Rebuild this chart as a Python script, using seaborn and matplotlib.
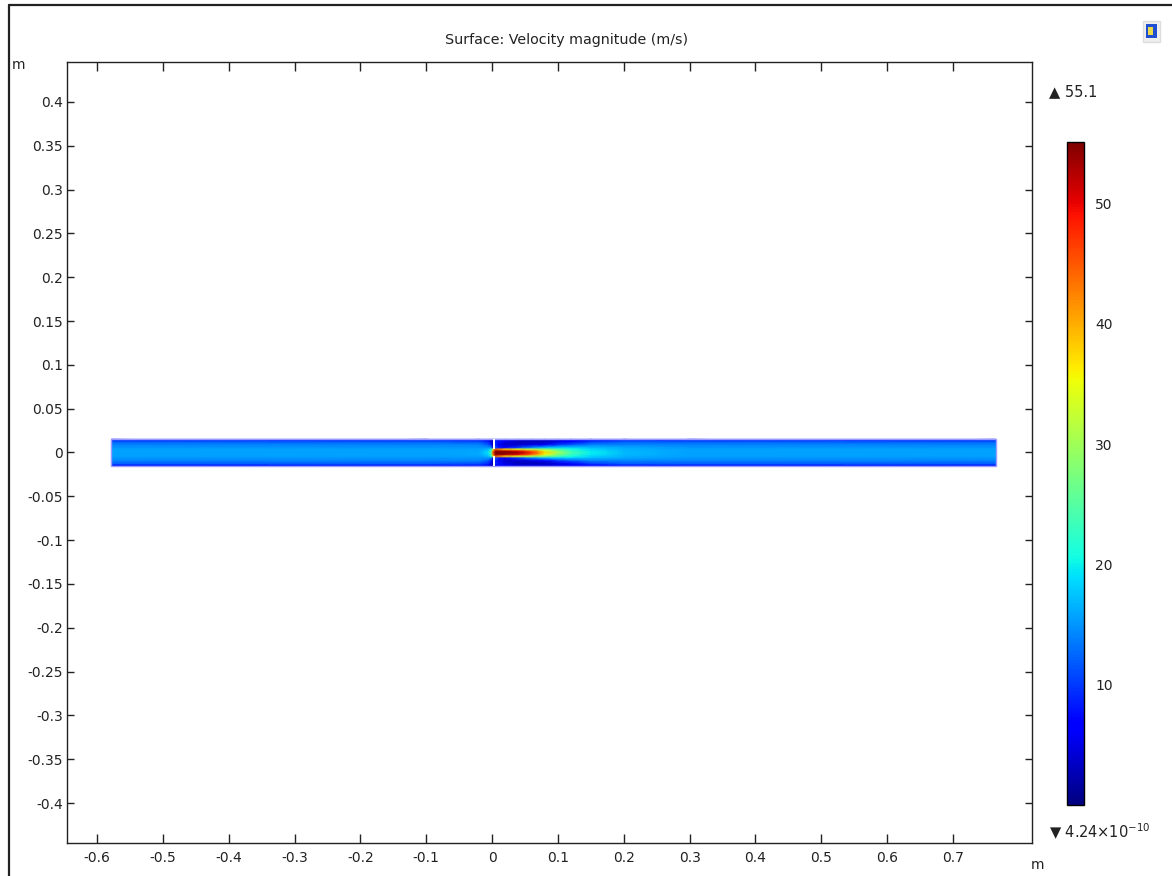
import numpy as np
import matplotlib
matplotlib.use("Agg")
import matplotlib.pyplot as plt
from matplotlib.lines import Line2D
from matplotlib.patches import Rectangle
import seaborn as sns

# ---------------- data ----------------
title = "Surface: Velocity magnitude (m/s)"
v_min, v_max = 4.24e-10, 55.1
pipe_x0, pipe_x1 = -0.578, 0.765
pipe_r = 0.015
plate_x0, plate_x1 = 0.0010, 0.0050
hole_r = 0.0038

# stations along the pipe (m)
x_stations = [-0.578, -0.10, -0.02, -0.006, -0.001, 0.0015, 0.005, 0.01,
              0.02, 0.04, 0.06, 0.08, 0.10, 0.12, 0.15, 0.20, 0.30, 0.765]
# half-profile radial positions, centre -> wall (m)
r_half = [0.0, 0.002, 0.004, 0.006, 0.009, 0.0125, 0.015]
# velocity magnitude (m/s) at each station, centre -> wall
u_profiles = [
    [15.5, 15.5, 15.5, 15, 14, 12, 8],     # -0.578
    [15.5, 15.5, 15.5, 15, 14, 12, 8],     # -0.10
    [16, 16, 15.5, 15, 14, 11, 8],         # -0.02
    [19, 18.5, 17, 15, 12, 9, 6],          # -0.006
    [26, 25, 21, 14, 8, 5, 3],             # -0.001
    [45, 43, 35, 3, 3, 3, 3],              # 0.0015
    [55, 54, 45, 12, 9, 9, 7],             # 0.005
    [55, 54, 42, 8, 6, 8, 7],              # 0.01
    [55, 53, 38, 7, 4, 5, 6],              # 0.02
    [54, 50, 34, 10, 4, 3, 5],             # 0.04
    [48, 44, 31, 14, 5, 3, 5],             # 0.06
    [38, 35, 28, 17, 7, 3, 5],             # 0.08
    [30, 28, 24, 18, 10, 5, 5],            # 0.10
    [24, 23, 21, 18, 12, 7, 6],            # 0.12
    [20, 19.5, 18.5, 17, 14, 10, 7],       # 0.15
    [17, 17, 16.5, 16, 14, 12, 8],         # 0.20
    [15.5, 15.5, 15.5, 15, 14, 12, 8],     # 0.30
    [15.5, 15.5, 15.5, 15, 14, 12, 8],     # 0.765
]
x_ticks = [-0.6, -0.5, -0.4, -0.3, -0.2, -0.1, 0, 0.1, 0.2, 0.3, 0.4, 0.5, 0.6, 0.7]
y_ticks = [-0.4, -0.35, -0.3, -0.25, -0.2, -0.15, -0.1, -0.05, 0,
           0.05, 0.1, 0.15, 0.2, 0.25, 0.3, 0.35, 0.4]
cbar_ticks = [10, 20, 30, 40, 50]

# ---------------- style ----------------
sns.set_theme(style="ticks")
plt.rcParams["font.family"] = ["DejaVu Sans"]
plt.rcParams["axes.unicode_minus"] = False
plt.rcParams["text.color"] = "#222222"
cmap = matplotlib.colormaps["jet"]

W, H = 1172, 876
fig = plt.figure(figsize=(W / 100, H / 100), dpi=100)
fig.patch.set_facecolor("white")

ax = fig.add_axes([67 / W, 1 - 843 / H, (1032 - 67) / W, (843 - 62) / H])

# build full (mirrored) grid
y_full = np.array([-r for r in r_half[::-1]] + r_half[1:])
U = np.array(u_profiles)                       # (nx, nr)
U_full = np.concatenate([U[:, ::-1], U[:, 1:]], axis=1).T  # (ny, nx)
X, Y = np.meshgrid(np.array(x_stations), y_full)
mesh = ax.pcolormesh(X, Y, U_full, cmap=cmap, vmin=v_min, vmax=v_max,
                     shading="gouraud", zorder=1)

# pipe outline
ax.add_patch(Rectangle((pipe_x0, -pipe_r), pipe_x1 - pipe_x0, 2 * pipe_r,
                       fill=False, edgecolor="#9a9aff", lw=1.0, zorder=3))
# orifice plate (white gaps)
ax.add_patch(Rectangle((plate_x0, hole_r), plate_x1 - plate_x0, pipe_r - hole_r + 0.0008,
                       facecolor="white", edgecolor="none", zorder=4))
ax.add_patch(Rectangle((plate_x0, -pipe_r - 0.0008), plate_x1 - plate_x0, pipe_r - hole_r + 0.0008,
                       facecolor="white", edgecolor="none", zorder=4))

ax.set_xlim(-0.6455, 0.82)
ax.set_ylim(-0.4456, 0.4456)
ax.set_xticks(x_ticks)
ax.set_xticklabels(["%g" % t for t in x_ticks])
ax.set_yticks(y_ticks)
ax.set_yticklabels(["%g" % t for t in y_ticks])
ax.tick_params(axis="x", direction="in", length=6.5, width=1, top=True, bottom=True,
               labelsize=10, pad=6, colors="#222222")
ax.tick_params(axis="y", direction="in", length=5, width=1, left=True, right=True,
               labelsize=10, pad=3, colors="#222222")
for s in ax.spines.values():
    s.set_visible(True)
    s.set_color("#222222")
    s.set_linewidth(1.0)
ax.set_facecolor("white")
ax.grid(False)

# colorbar
cax = fig.add_axes([1067 / W, 1 - 805 / H, (1084 - 1067) / W, (805 - 142) / H])
cb = fig.colorbar(mesh, cax=cax)
cb.set_ticks(cbar_ticks)
cb.outline.set_edgecolor("black")
cb.outline.set_linewidth(1.0)
cax.tick_params(direction="in", length=4, width=1, left=True, right=True,
                labelsize=10, pad=8, colors="#222222")

# texts
fig.text(567 / W, 1 - 40 / H, title, ha="center", va="center", fontsize=10.3)
fig.text(12 / W, 1 - 65 / H, "m", ha="left", va="center", fontsize=10)
fig.text(1037 / W, 1 - 865 / H, "m", ha="center", va="center", fontsize=10)
fig.text(1049 / W, 1 - 92 / H, "\u25B2 55.1", ha="left", va="center", fontsize=10.5)
fig.text(1049 / W, 1 - 832 / H, "\u25BC 4.24$\\times$10$^{-10}$", ha="left", va="center",
         fontsize=10.5)

# outer frame lines (left and top)
fig.add_artist(Line2D([8.5 / W, 8.5 / W], [0, 1 - 4.5 / H], color="#222222", lw=1.6))
fig.add_artist(Line2D([8.5 / W, 1], [1 - 4.5 / H, 1 - 4.5 / H], color="#222222", lw=1.6))

# small toolbar icon (top-right)
fig.patches.append(Rectangle((1143 / W, 1 - 42 / H), 17 / W, 21 / H, transform=fig.transFigure,
                             facecolor="#eeeeee", edgecolor="#dddddd", lw=1.0))
fig.patches.append(Rectangle((1146 / W, 1 - 38 / H), 11 / W, 14 / H, transform=fig.transFigure,
                             facecolor="#1f4fd0", edgecolor="none"))
fig.patches.append(Rectangle((1148 / W, 1 - 35 / H), 5 / W, 8 / H, transform=fig.transFigure,
                             facecolor="#e8d84a", edgecolor="none"))

fig.savefig("out.png", dpi=100, facecolor="white")
